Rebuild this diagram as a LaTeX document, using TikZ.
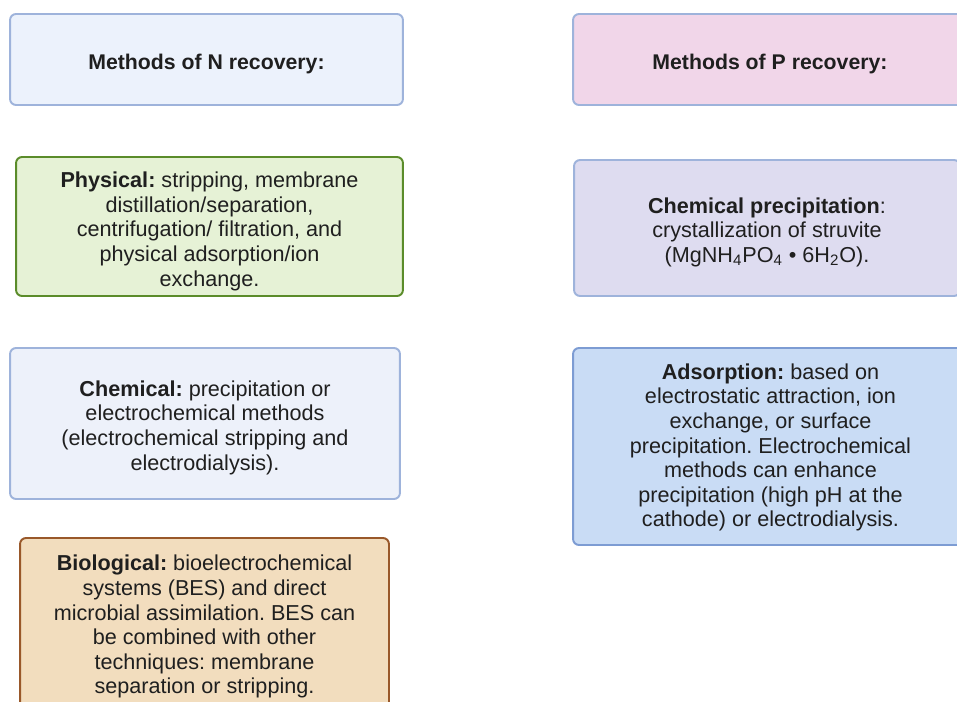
\documentclass[tikz,border=0pt]{standalone}
\usepackage{fontspec}
\setmainfont{Liberation Sans}

\definecolor{headline}{HTML}{9EB3DB}
\definecolor{nheadfill}{HTML}{ECF2FC}
\definecolor{pheadfill}{HTML}{F1D6E9}
\definecolor{physline}{HTML}{5B8C2A}
\definecolor{physfill}{HTML}{E6F2D6}
\definecolor{precipfill}{HTML}{DEDCF0}
\definecolor{chemfill}{HTML}{EDF1FA}
\definecolor{adsline}{HTML}{7D9CD3}
\definecolor{adsfill}{HTML}{C9DCF5}
\definecolor{bioline}{HTML}{99582A}
\definecolor{biofill}{HTML}{F2DDBE}

% strut on the first line, pushes the text block a little down
\newcommand{\topgap}[1][13.5pt]{\rule{0pt}{#1}}

\tikzset{
  methodbox/.style={rectangle, draw, rounded corners=0.12cm, line width=1.1pt,
    align=center, inner sep=0pt, text=black!88,
    font=\fontsize{12.3}{14}\selectfont\frenchspacing},
  headbox/.style={methodbox, font=\fontsize{12.1}{14}\selectfont\bfseries}
}

\begin{document}
\begin{tikzpicture}[x=0.02cm, y=-0.02cm]

\useasboundingbox (0,0) rectangle (957,702);
\clip (0,0) rectangle (957,702);

%N recovery
\node[headbox, draw=headline, fill=nheadfill, minimum width=7.86cm, minimum height=1.82cm] (nrec) at (206.5,59.5) {\topgap[14.4pt]Methods of N recovery:};

%P recovery
\node[headbox, draw=headline, fill=pheadfill, minimum width=7.88cm, minimum height=1.82cm] (prec) at (770,59.5) {\topgap[14.4pt]Methods of P recovery:};

%Physical
\node[methodbox, draw=physline, fill=physfill, minimum width=7.74cm, minimum height=2.78cm] (physical) at (209.5,226.5) {\topgap[14.5pt]\textbf{Physical:} stripping, membrane\\ distillation/separation,\\ centrifugation/ filtration, and\\ physical adsorption/ion\\ exchange.};

%Chemical precipitation
\node[methodbox, draw=headline, fill=precipfill, minimum width=7.72cm, minimum height=2.72cm] (precip) at (767,228) {\topgap\textbf{Chemical precipitation}:\\ crystallization of struvite\\ (MgNH\textsubscript{4}PO\textsubscript{4} • 6H\textsubscript{2}O).};

%Chemical
\node[methodbox, draw=headline, fill=chemfill, minimum width=7.8cm, minimum height=3.02cm] (chemical) at (205,423.5) {\topgap\textbf{Chemical:} precipitation or\\ electrochemical methods\\ (electrochemical stripping and\\ electrodialysis).};

%Adsorption
\node[methodbox, draw=adsline, fill=adsfill, minimum width=7.9cm, minimum height=3.94cm] (adsorption) at (770.5,446.5) {\topgap[10pt]\textbf{Adsorption:} based on\\ electrostatic attraction, ion\\ exchange, or surface\\ precipitation. Electrochemical\\ methods can enhance\\ precipitation (high pH at the\\ cathode) or electrodialysis.};

%Biological
\node[methodbox, draw=bioline, fill=biofill, minimum width=7.38cm, minimum height=3.48cm] (biological) at (204.5,625) {\topgap[11pt]\textbf{Biological:} bioelectrochemical\\ systems (BES) and direct\\ microbial assimilation. BES can\\ be combined with other\\ techniques: membrane\\ separation or stripping.};

\end{tikzpicture}
\end{document}
